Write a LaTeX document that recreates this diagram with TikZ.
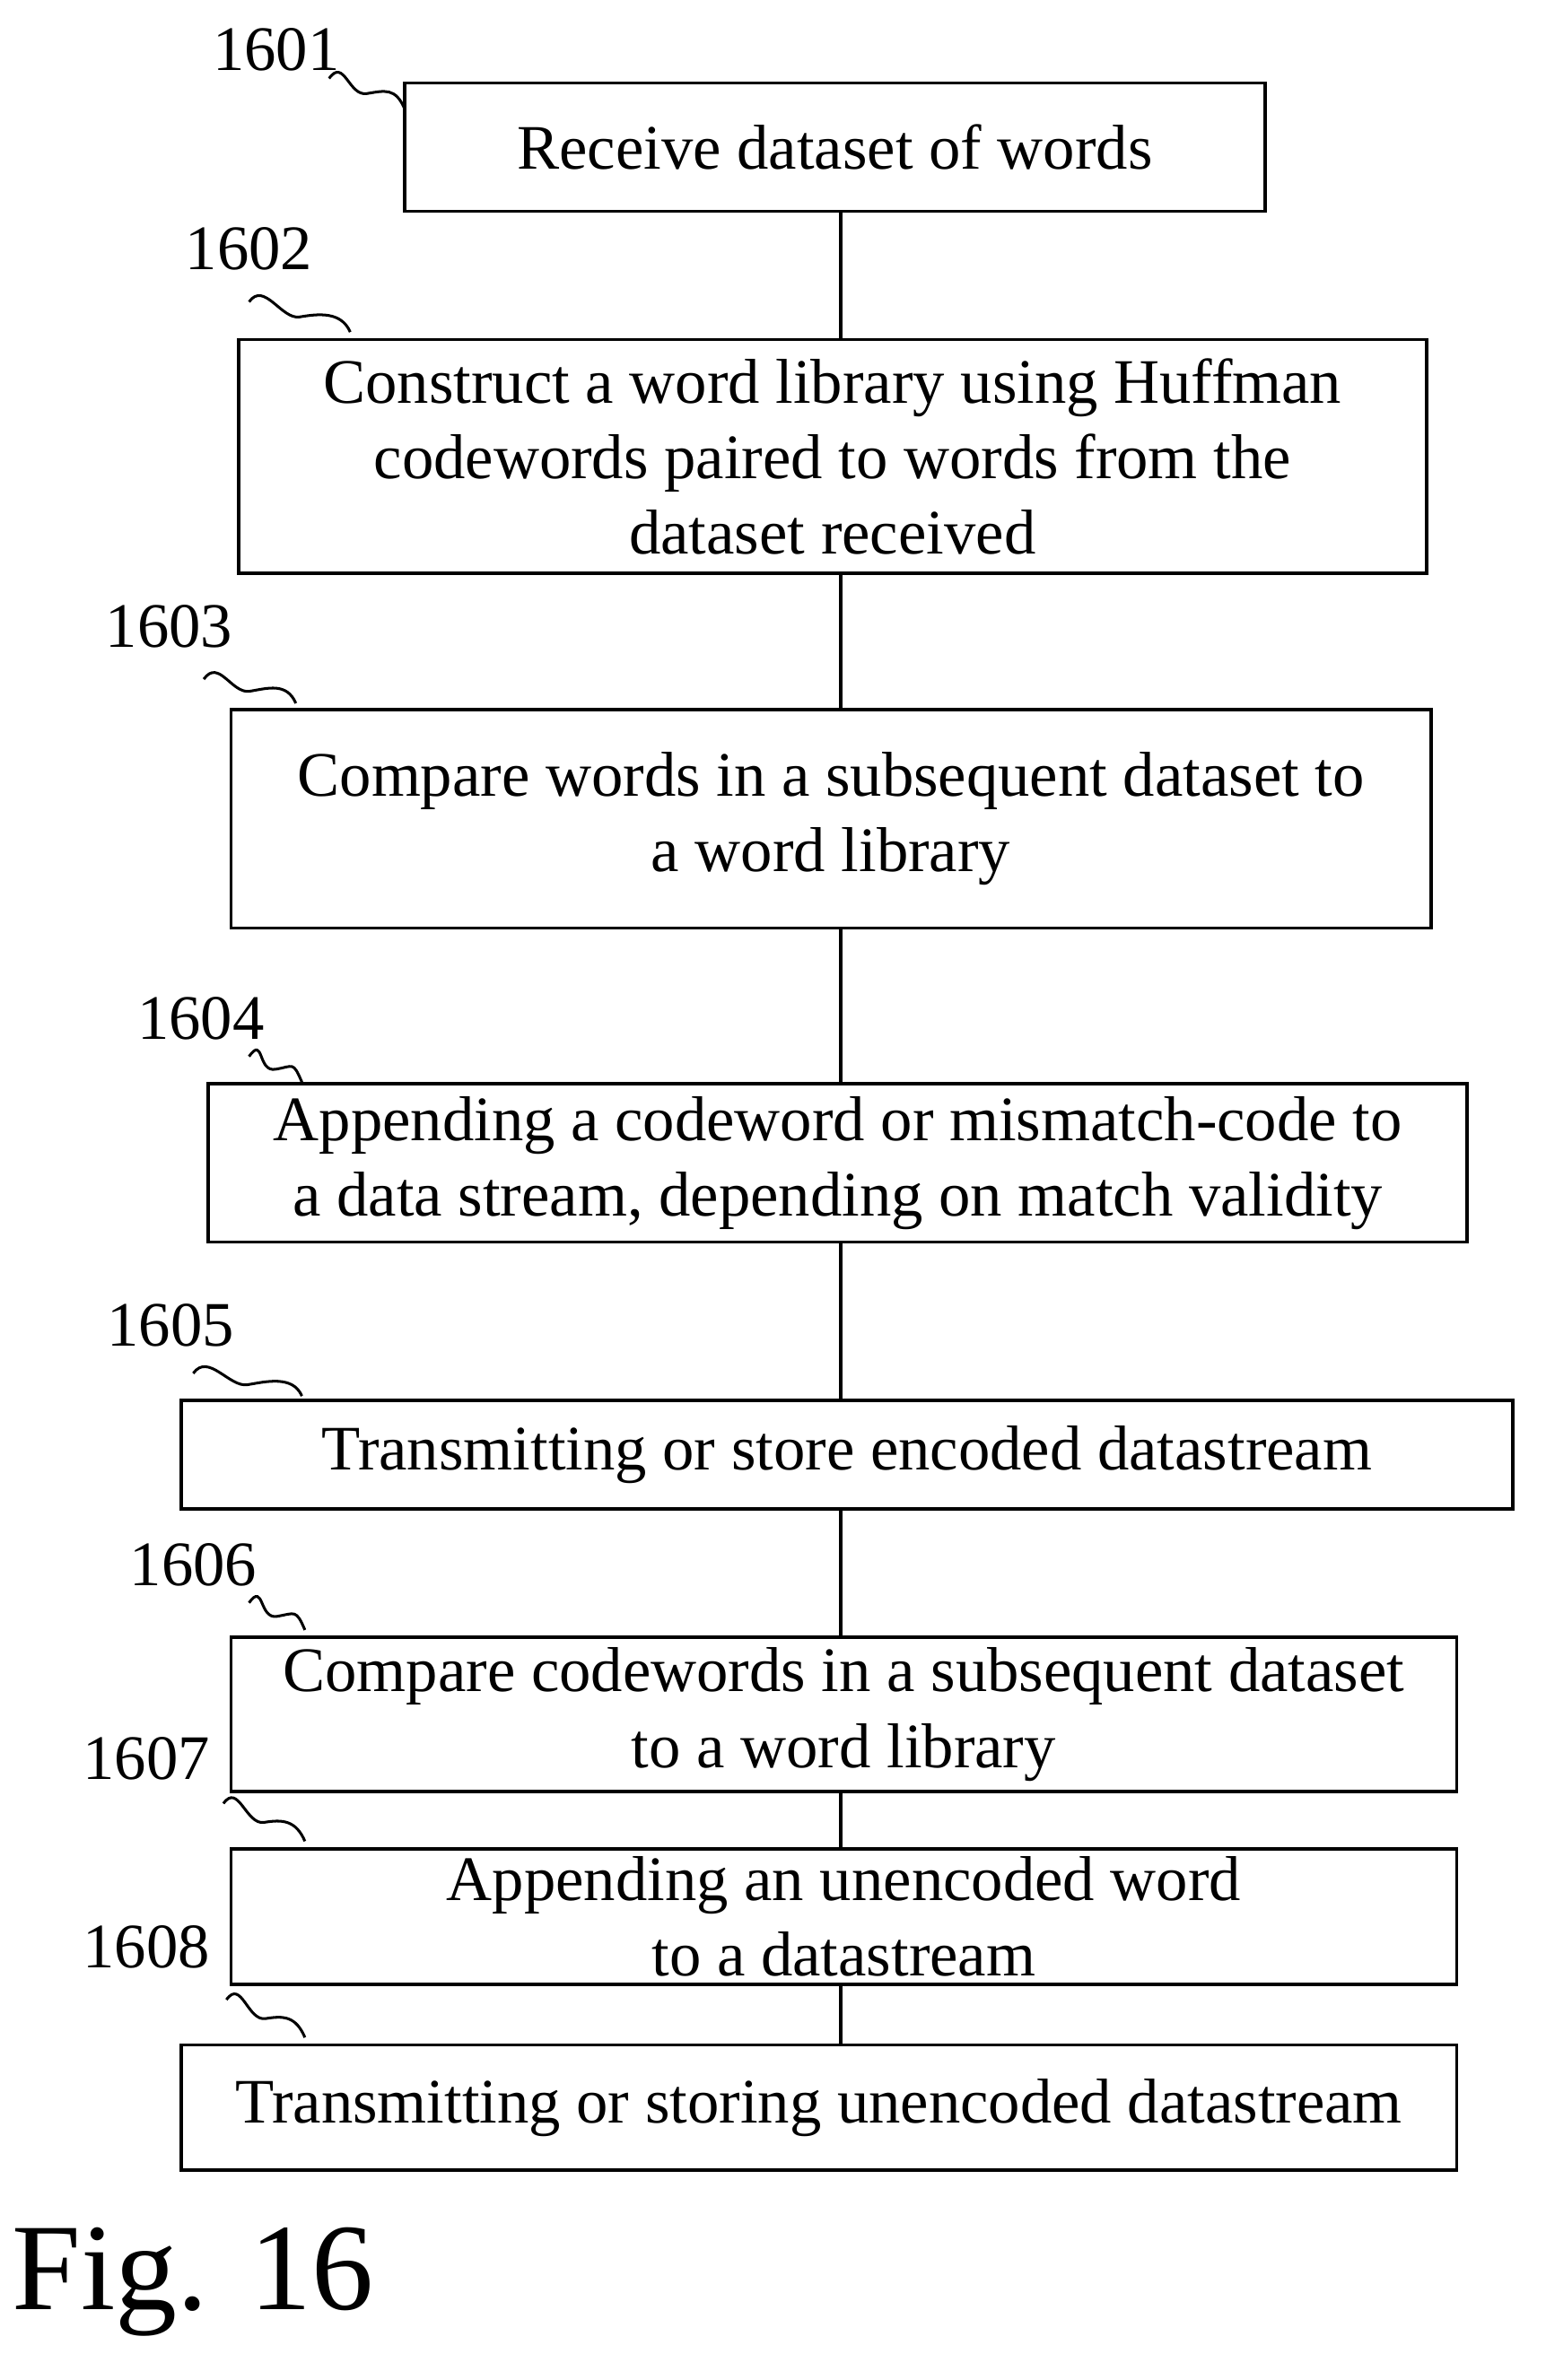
\documentclass[tikz,border=0pt]{standalone}
\usepackage{fontspec}
\setmainfont{Liberation Serif}
\usetikzlibrary{calc}
\begin{document}
\begin{tikzpicture}[x=1pt,y=-1pt,
  box/.style={draw,line width=2.2pt,align=center,font=\fontsize{42}{50}\selectfont,inner sep=0pt},
  lab/.style={font=\fontsize{42}{44}\selectfont,inner sep=0pt},
  ln/.style={line width=2pt},
  sq/.style={line width=1.8pt}]
\useasboundingbox (0,0) rectangle (1024,1577);
\newcommand{\bx}[6]{\node[box,minimum width=#4-#2,minimum height=#5-#3] (#1) at ({(#2+#4)/2},{(#3+#5)/2}) {#6};}
\bx{b1}{268}{55}{838}{140}{Receive dataset of words}
\bx{b2}{158}{225}{945}{380}{Construct a word library using Huffman\\codewords paired to words from the\\dataset received}
\bx{b3}{153}{470}{948}{615}{Compare words in a subsequent dataset to\\a word library}
\bx{b4}{138}{718}{972}{823}{Appending a codeword or mismatch-code to\\a data stream, depending on match validity}
\bx{b5}{120}{928}{1002}{1000}{Transmitting or store encoded datastream}
\bx{b6}{153}{1085}{965}{1187}{Compare codewords in a subsequent dataset\\to a word library}
\bx{b7}{153}{1225}{965}{1315}{Appending an unencoded word\\to a datastream}
\bx{b8}{120}{1355}{965}{1438}{Transmitting or storing unencoded datastream}
\foreach \a/\b in {b1/b2,b2/b3,b3/b4,b4/b5,b5/b6,b6/b7,b7/b8}
  \draw[ln] (557,0 |- \a.south) -- (557,0 |- \b.north);
\node[lab] (l1) at (183,33) {1601};
\node[lab] (l2) at (165,165) {1602};
\node[lab] (l3) at (112,415) {1603};
\node[lab] (l4) at (133,675) {1604};
\node[lab] (l5) at (113,878) {1605};
\node[lab] (l6) at (128,1037) {1606};
\node[lab] (l7) at (97,1165) {1607};
\node[lab] (l8) at (97,1290) {1608};
\coordinate (e1) at (268,72); \coordinate (e2) at (232,220);
\coordinate (e3) at (196,466); \coordinate (e4) at (200,717);
\coordinate (e5) at (200,925); \coordinate (e6) at (202,1080);
\coordinate (e7) at (202,1220); \coordinate (e8) at (202,1350);
\foreach \i/\x/\y in {1/218/52,2/165/200,3/135/450,4/165/700,5/128/910,6/165/1062,7/148/1195,8/150/1325}{
  \draw[sq] (\x,\y) .. controls +(10,-14) and +(-12,2) .. ($(\x,\y)!0.5!(e\i)$) .. controls +(12,-2) and +(-6,-14) .. (e\i);
}
\node[font=\fontsize{82}{86}\selectfont,anchor=west,inner sep=0pt] (fig) at (8,1512) {Fig. 16};
\end{tikzpicture}
\end{document}
